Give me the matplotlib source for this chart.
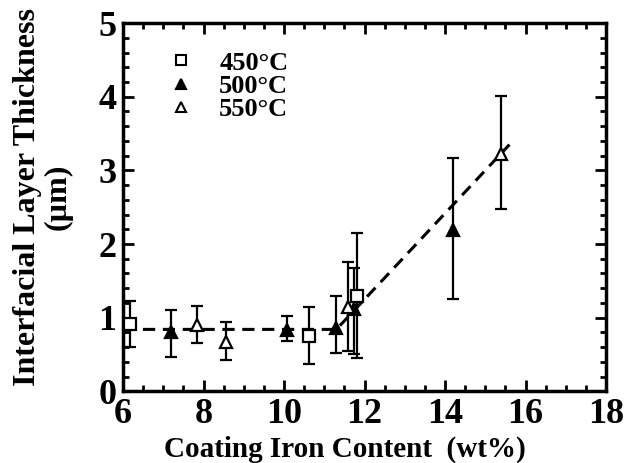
import matplotlib.pyplot as plt
from matplotlib.lines import Line2D
from matplotlib.ticker import MultipleLocator

plt.rcParams['font.family'] = 'Liberation Serif'
plt.rcParams['font.weight'] = 'bold'

# 450 C (open squares)
x450 = [6.18, 10.62, 11.8]
y450 = [0.92, 0.75, 1.30]
lo450 = [0.60, 0.37, 0.45]
hi450 = [1.22, 1.15, 2.15]

# 500 C (filled triangles)
x500 = [7.19, 10.07, 11.28, 11.75, 14.19]
y500 = [0.80, 0.83, 0.86, 1.12, 2.19]
lo500 = [0.46, 0.68, 0.52, 0.50, 1.25]
hi500 = [1.11, 1.02, 1.29, 1.68, 3.17]

# 550 C (open triangles)
x550 = [7.84, 8.55, 11.6, 15.4]
y550 = [0.90, 0.67, 1.15, 3.22]
lo550 = [0.65, 0.42, 0.55, 2.47]
hi550 = [1.16, 0.94, 1.76, 4.01]

# dashed trend line
fit_x = [6.0, 11.3, 15.6]
fit_y = [0.84, 0.84, 3.35]

fig = plt.figure(figsize=(6.28, 4.63), dpi=100)
ax = fig.add_axes([0.196, 0.155, 0.769, 0.795])

ax.plot(fit_x, fit_y, 'k--', lw=2.2, dashes=(4, 2.5), zorder=2)


def series(x, y, lo, hi, marker, fill):
    err = [[a - b for a, b in zip(y, lo)], [b - a for a, b in zip(y, hi)]]
    ax.errorbar(x, y, yerr=err, fmt='none', ecolor='k', elinewidth=1.6,
                capsize=4, capthick=1.6, zorder=3)
    ax.plot(x, y, linestyle='none', marker=marker, ms=8.5, mew=1.6,
            mec='k', mfc=fill, zorder=4)


series(x450, y450, lo450, hi450, 's', 'white')
series(x500, y500, lo500, hi500, '^', 'black')
series(x550, y550, lo550, hi550, '^', 'white')

ax.set_xlim(6, 18)
ax.set_ylim(0, 5)
ax.xaxis.set_major_locator(MultipleLocator(2))
ax.xaxis.set_minor_locator(MultipleLocator(0.5))
ax.yaxis.set_major_locator(MultipleLocator(1))
ax.yaxis.set_minor_locator(MultipleLocator(0.2))
ax.tick_params(which='both', direction='in', top=True, right=True, width=2)
ax.tick_params(which='major', length=8, labelsize=26, pad=5)
ax.tick_params(which='minor', length=4)
for s in ax.spines.values():
    s.set_linewidth(2.5)

ax.set_xlabel('Coating Iron Content  (wt%)', fontsize=21, fontweight='bold')
ax.xaxis.set_label_coords(0.46, -0.12)
ax.set_ylabel('Interfacial Layer Thickness\n(\u00b5m)', fontsize=23, fontweight='bold',
              linespacing=1.05)
ax.yaxis.set_label_coords(-0.105, 0.527)

handles = [
    Line2D([], [], ls='none', marker='s', ms=7, mew=1.5, mec='k', mfc='white'),
    Line2D([], [], ls='none', marker='^', ms=7, mew=1.5, mec='k', mfc='black'),
    Line2D([], [], ls='none', marker='^', ms=7, mew=1.5, mec='k', mfc='white'),
]
ax.legend(handles, ['450\u00b0C', '500\u00b0C', '550\u00b0C'], loc='upper left',
          frameon=False, fontsize=19, handletextpad=0.95, labelspacing=0.0,
          handlelength=1.0, borderpad=0, bbox_to_anchor=(0.065, 0.96))

fig.savefig('out.png', dpi=100)
